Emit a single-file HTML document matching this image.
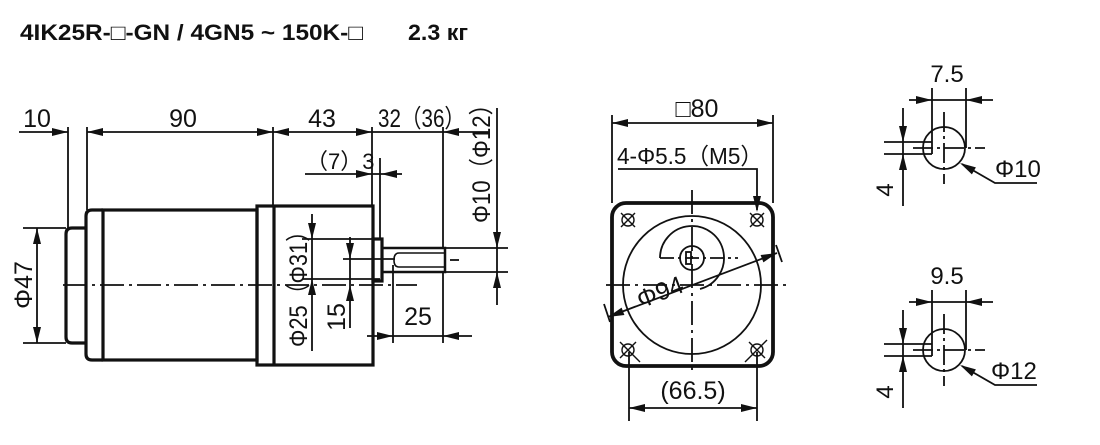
<!DOCTYPE html>
<html><head><meta charset="utf-8"><style>
html,body{margin:0;padding:0;background:#fff;}
svg{display:block;}
text{font-family:"Liberation Sans",sans-serif;fill:#111;}
</style></head><body>
<svg width="1100" height="445" viewBox="0 0 1100 445" xmlns="http://www.w3.org/2000/svg">
<text x="20" y="40" font-size="22" font-weight="bold" textLength="343" lengthAdjust="spacingAndGlyphs">4IK25R-□-GN / 4GN5 ~ 150K-□</text>
<text x="408" y="40" font-size="22" font-weight="bold" textLength="60" lengthAdjust="spacingAndGlyphs">2.3 кг</text>

<g stroke="#111" fill="none" stroke-width="1.8">
<line x1="68" y1="127" x2="68" y2="228"/>
<line x1="87" y1="127" x2="87" y2="210"/>
<line x1="273" y1="127" x2="273" y2="206"/>
<line x1="372" y1="127" x2="372" y2="206"/>
<line x1="443" y1="127" x2="443" y2="248"/>
<line x1="19" y1="132" x2="68" y2="132"/>
<line x1="87" y1="132" x2="273" y2="132"/>
<line x1="273" y1="132" x2="372" y2="132"/>
<line x1="372" y1="132" x2="490" y2="132"/>
<line x1="305" y1="174" x2="402" y2="174"/>
<line x1="380" y1="158" x2="380" y2="239"/>
<line x1="497" y1="108" x2="497" y2="305"/>
<line x1="445" y1="248" x2="508" y2="248"/>
<line x1="445" y1="272" x2="508" y2="272"/>
<line x1="23" y1="228" x2="66" y2="228"/>
<line x1="23" y1="343" x2="66" y2="343"/>
<line x1="37" y1="228" x2="37" y2="343"/>
<line x1="302" y1="239" x2="380" y2="239"/>
<line x1="302" y1="279" x2="380" y2="279"/>
<line x1="312" y1="214" x2="312" y2="351"/>
<line x1="343" y1="259" x2="395" y2="259"/>
<line x1="350" y1="237" x2="350" y2="328"/>
<line x1="393" y1="265" x2="393" y2="343"/>
<line x1="443" y1="272" x2="443" y2="343"/>
<line x1="367" y1="336" x2="472" y2="336"/>
<line x1="63" y1="285" x2="417" y2="285" stroke-dasharray="24,5,3,5"/>
<line x1="450" y1="260" x2="459" y2="260"/>
</g>
<g fill="#111">
<path d="M68,132l-16,-4v8z"/>
<path d="M87,132l16,-4v8z"/><path d="M273,132l-16,-4v8z"/>
<path d="M273,132l16,-4v8z"/><path d="M372,132l-16,-4v8z"/>
<path d="M443,132l16,-4v8z"/>
<path d="M372,174l-16,-4v8z"/><path d="M381,174l16,-4v8z"/>
<path d="M497,248l-4,-16h8z"/><path d="M497,272l-4,16h8z"/>
<path d="M37,228l-4,16h8z"/><path d="M37,343l-4,-16h8z"/>
<path d="M312,239l-4,-16h8z"/><path d="M312,279l-4,16h8z"/>
<path d="M350,259l-4,-16h8z"/><path d="M350,285l-4,16h8z"/>
<path d="M393,336l-16,-4v8z"/><path d="M443,336l16,-4v8z"/>
</g>
<g stroke="#111" fill="none" stroke-width="3.2">
<path d="M86,228 L72,228 Q66,228 66,234 L66,337 Q66,343 72,343 L86,343"/>
<path d="M103,210 L92,210 Q86,210 86,216 L86,354 Q86,360 92,360 L103,360"/>
<rect x="103" y="210" width="154" height="150"/>
<rect x="257" y="206" width="116" height="159"/>
<line x1="274" y1="206" x2="274" y2="365"/>
<rect x="373" y="239" width="9" height="42"/>
<rect x="382" y="248" width="63" height="24" stroke-width="2.5"/>
<path d="M445,253 L399,253 Q394,253 394,260 Q394,267 399,267 L445,267" stroke-width="1.6"/>
</g>
<g font-size="25">
<text x="37" y="127" text-anchor="middle">10</text>
<text x="183" y="127" text-anchor="middle">90</text>
<text x="322" y="127" text-anchor="middle">43</text>
<text x="378" y="127" textLength="87" lengthAdjust="spacingAndGlyphs">32（36）</text>
<text x="306" y="169" font-size="22">（7）3</text>
<text transform="translate(490,223) rotate(-90)" textLength="130" lengthAdjust="spacingAndGlyphs">Φ10（Φ12）</text>
<text transform="translate(32,285) rotate(-90)" text-anchor="middle">Φ47</text>
<text transform="translate(307,347) rotate(-90)" textLength="127" lengthAdjust="spacingAndGlyphs">Φ25（Φ31）</text>
<text transform="translate(345,317) rotate(-90)" text-anchor="middle">15</text>
<text x="418" y="325" text-anchor="middle">25</text>
</g>

<g stroke="#111" fill="none" stroke-width="1.8">
<line x1="612" y1="115" x2="612" y2="203"/>
<line x1="773" y1="115" x2="773" y2="203"/>
<line x1="612" y1="123" x2="773" y2="123"/>
<path d="M618,169 L757,169 L757,210"/>
<circle cx="692" cy="285" r="69"/>
<circle cx="692" cy="258" r="12"/>
<path d="M660,258 A32,32 0 1 1 700,289"/>
<line x1="692" y1="190" x2="692" y2="372" stroke-dasharray="24,5,3,5"/>
<line x1="606" y1="285" x2="790" y2="285" stroke-dasharray="24,5,3,5"/>
<line x1="660" y1="258" x2="738" y2="258" stroke-dasharray="14,4,3,4"/>
<line x1="608" y1="317" x2="777" y2="253"/>
<line x1="604" y1="304" x2="610" y2="322"/>
<line x1="776" y1="245" x2="782" y2="262"/>
<rect x="686" y="252" width="5" height="12"/>
<g stroke-width="1.4">
<circle cx="628" cy="220" r="6"/><line x1="621" y1="213" x2="635" y2="227"/><line x1="635" y1="213" x2="621" y2="227"/>
<circle cx="757" cy="220" r="6"/><line x1="750" y1="213" x2="764" y2="227"/><line x1="764" y1="213" x2="750" y2="227"/>
<circle cx="628" cy="350" r="6"/><line x1="620" y1="342" x2="640" y2="362"/><line x1="636" y1="342" x2="620" y2="358"/>
<circle cx="757" cy="350" r="6"/><line x1="749" y1="342" x2="765" y2="358"/><line x1="767" y1="340" x2="745" y2="362"/>
</g>
<line x1="629" y1="352" x2="629" y2="421"/>
<line x1="757" y1="352" x2="757" y2="421"/>
<line x1="629" y1="408" x2="757" y2="408"/>
</g>
<g fill="#111">
<path d="M612,123l16,-4v8z"/><path d="M773,123l-16,-4v8z"/>
<path d="M757,212l-4,-16h8z"/>
<path d="M629,408l16,-4v8z"/><path d="M757,408l-16,-4v8z"/>
<path d="M777,253L763.4,262.4L760.6,255z"/>
<path d="M608,317L624.4,315L621.6,307.6z"/>
</g>
<rect x="612" y="203" width="161" height="163" rx="14" stroke="#111" stroke-width="3.8" fill="none"/>
<g font-size="25">
<text x="697" y="117" text-anchor="middle">□80</text>
<text x="617" y="164" font-size="23" textLength="146" lengthAdjust="spacingAndGlyphs">4-Φ5.5（M5）</text>
<text transform="translate(663,300) rotate(-21)" text-anchor="middle">Φ94</text>
<text x="693" y="399" text-anchor="middle">(66.5)</text>
</g>

<g>
<g stroke="#111" fill="none" stroke-width="1.8">
<circle cx="944" cy="148" r="21"/>
<line x1="932" y1="88" x2="932" y2="154"/>
<line x1="966" y1="88" x2="966" y2="148"/>
<line x1="909" y1="100" x2="993" y2="100"/>
<line x1="884" y1="142" x2="932" y2="142"/>
<line x1="884" y1="154" x2="932" y2="154"/>
<line x1="903" y1="108" x2="903" y2="206"/>
<line x1="913" y1="148" x2="985" y2="148" stroke-dasharray="20,4,3,4"/>
<line x1="944" y1="112" x2="944" y2="184" stroke-dasharray="20,4,3,4"/>
<path d="M1037,183 L995,183 L962,164"/>
</g>
<g fill="#111">
<path d="M932,100l-16,-4v8z"/><path d="M966,100l16,-4v8z"/>
<path d="M903,142l-4,-16h8z"/><path d="M903,154l-4,16h8z"/>
<path d="M960,163L975.9,167.4L971.9,174.4z"/>
</g>
</g>
<g font-size="24">
<text x="947" y="82" text-anchor="middle">7.5</text>
<text x="995" y="177">Φ10</text>
<text transform="translate(893,190) rotate(-90)" text-anchor="middle">4</text>
</g>
<g transform="translate(0,202)">
<g stroke="#111" fill="none" stroke-width="1.8">
<circle cx="944" cy="148" r="21"/>
<line x1="932" y1="88" x2="932" y2="154"/>
<line x1="966" y1="88" x2="966" y2="148"/>
<line x1="909" y1="100" x2="993" y2="100"/>
<line x1="884" y1="142" x2="932" y2="142"/>
<line x1="884" y1="154" x2="932" y2="154"/>
<line x1="903" y1="108" x2="903" y2="206"/>
<line x1="913" y1="148" x2="985" y2="148" stroke-dasharray="20,4,3,4"/>
<line x1="944" y1="112" x2="944" y2="184" stroke-dasharray="20,4,3,4"/>
<path d="M1037,183 L995,183 L962,164"/>
</g>
<g fill="#111">
<path d="M932,100l-16,-4v8z"/><path d="M966,100l16,-4v8z"/>
<path d="M903,142l-4,-16h8z"/><path d="M903,154l-4,16h8z"/>
<path d="M960,163L975.9,167.4L971.9,174.4z"/>
</g>
</g>
<g font-size="24">
<text x="947" y="284" text-anchor="middle">9.5</text>
<text x="991" y="379">Φ12</text>
<text transform="translate(893,392) rotate(-90)" text-anchor="middle">4</text>
</g>
</svg>
</body></html>
